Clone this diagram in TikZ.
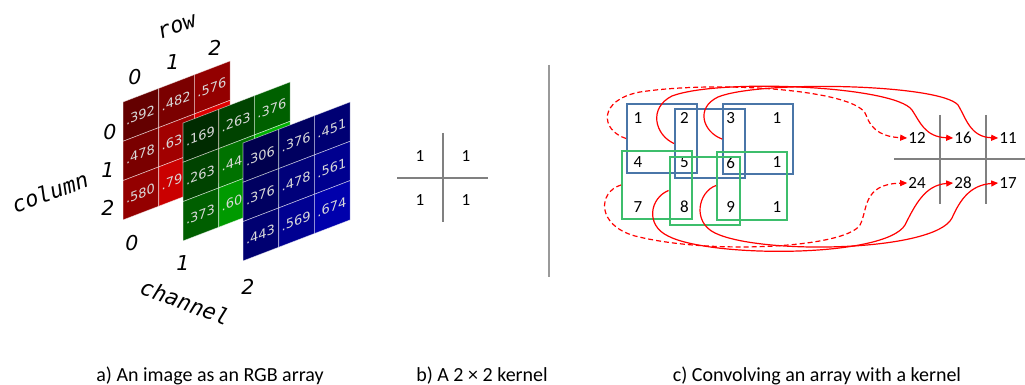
\documentclass[tikz,border=0pt]{standalone}
\usepackage{fontspec}
\setmainfont{Carlito}
\newfontfamily\cellfont{DejaVu Sans}
\newfontfamily\axisfont{DejaVu Sans Mono}
\newfontfamily\axisnumfont{DejaVu Sans}
\usepackage{tikz}
\usetikzlibrary{arrows.meta}
\definecolor{KerGray}{HTML}{808080}
\definecolor{WinBlue}{HTML}{4A76A8}
\definecolor{WinGreen}{HTML}{3DBE6C}
\definecolor{ConvRed}{HTML}{FF0000}
\newcommand{\cellw}{35.7}
\newcommand{\cellh}{39.3}
% one slanted channel of the RGB array: #1,#2 top left, #3 rgb of a cell, #4 value/text pairs, #5 name
\newcommand{\ChanPanel}[5]{%
  \begin{scope}[shift={(#1,-#2)},yslant=0.383]
    \foreach \v/\s [count=\k from 0] in {#4} {
      \pgfmathtruncatemacro{\pcol}{mod(\k,3)}
      \pgfmathtruncatemacro{\prow}{\k/3}
      \definecolor{cellc}{rgb}{#3}
      \draw[cellline,fill=cellc] (\pcol*\cellw,-\prow*\cellh) rectangle ++(\cellw,-\cellh);
      \node[celltxt] (#5\k) at (\pcol*\cellw+2.8,-\prow*\cellh-0.5*\cellh) {\s};
    }
  \end{scope}}

\begin{document}
\begin{tikzpicture}[x=1pt,y=1pt,
  cellline/.style={draw=white,draw opacity=.6,line width=.6pt},
  celltxt/.style={font=\cellfont\fontsize{13}{15}\selectfont,text=white!85!black,transform shape,inner sep=0pt,anchor=west},
  axislab/.style={font=\axisfont\itshape\fontsize{22}{26}\selectfont},
  axisnum/.style={font=\axisnumfont\itshape\fontsize{20.5}{24}\selectfont},
  numtxt/.style={font=\fontsize{17}{20}\selectfont,inner sep=1pt},
  capt/.style={font=\fontsize{20}{24}\selectfont,anchor=base},
  gridline/.style={KerGray,line width=1.3pt},
  winblue/.style={draw=WinBlue,line width=2pt,minimum width=70pt,minimum height=69pt,inner sep=0pt},
  wingreen/.style={draw=WinGreen,line width=2pt,minimum width=70pt,minimum height=68pt,inner sep=0pt},
  convarrow/.style={ConvRed,line width=1.2pt,-{Triangle[length=7pt,width=6pt]}},
  convdash/.style={convarrow,dash pattern=on 5pt off 3pt}]
  \useasboundingbox (0,0) rectangle (1025,-385);

  % a) the RGB array
  \ChanPanel{123}{102}{\v,0,0}{.392/.392,.482/.482,.576/.576,.478/.478,.631/.63,.874/{},.580/.580,.792/.79,.914/{}}{red}
  \ChanPanel{183}{123}{0,\v,0}{.169/.169,.263/.263,.376/.376,.263/.263,.447/.44,.698/{},.373/.373,.604/.60,.702/{}}{green}
  \ChanPanel{243}{143}{0,0,\v}{.306/.306,.376/.376,.451/.451,.376/.376,.478/.478,.561/.561,.443/.443,.569/.569,.674/.674}{blue}
  \node[axislab,rotate=20] (rowlab) at (177,-27) {row};
  \node[axisnum] (top0) at (135,-77) {0};
  \node[axisnum] (top1) at (173,-62) {1};
  \node[axisnum] (top2) at (215,-48) {2};
  \node[axisnum] (left0) at (110,-132) {0};
  \node[axisnum] (left1) at (108,-170) {1};
  \node[axisnum] (left2) at (108,-208) {2};
  \node[axislab,rotate=20] (collab) at (50,-192) {column};
  \node[axisnum] (bot0) at (132,-243) {0};
  \node[axisnum] (bot1) at (183,-263) {1};
  \node[axisnum] (bot2) at (248,-287) {2};
  \node[axislab,rotate=-20] (chanlab) at (185,-302) {channel};

  % b) the kernel
  \draw[gridline] (443,-133) -- (443,-222);
  \draw[gridline] (397,-178) -- (488,-178);
  \node[numtxt] (ker1) at (420,-156) {1};
  \node[numtxt] (ker2) at (466,-156) {1};
  \node[numtxt] (ker3) at (420,-200) {1};
  \node[numtxt] (ker4) at (466,-200) {1};

  \draw[KerGray!80,line width=1.2pt] (549,-65) -- (549,-277);

  % c) the convolution
  \foreach \t [count=\i from 0] in {1,2,3,1,4,5,6,1,7,8,9,1} {
    \pgfmathsetmacro{\ax}{638+46.3*mod(\i,4)}
    \pgfmathsetmacro{\ay}{-118-44.5*int(\i/4)}
    \node[numtxt] (arr\i) at (\ax,\ay) {\t};
  }
  \node[winblue] (win1) at (662,-138.5) {};
  \node[winblue] (win2) at (710,-143.5) {};
  \node[winblue] (win3) at (758,-139) {};
  \node[wingreen] (win4) at (657,-185) {};
  \node[wingreen] (win5) at (704.5,-190.5) {};
  \node[wingreen] (win6) at (752,-185.5) {};

  \draw[gridline] (940,-115) -- (940,-204);
  \draw[gridline] (986,-115) -- (986,-204);
  \draw[gridline] (894,-159) -- (1025,-159);
  \node[numtxt] (out1) at (917,-138) {12};
  \node[numtxt] (out2) at (963,-138) {16};
  \node[numtxt] (out3) at (1008,-138) {11};
  \node[numtxt] (out4) at (917,-183) {24};
  \node[numtxt] (out5) at (963,-183) {28};
  \node[numtxt] (out6) at (1008,-183) {17};

  \draw[convdash] (win1.west) .. controls (600,-130) and (598,-100) .. (640,-92)
    .. controls (720,-80) and (858,-90) .. (866,-115)
    .. controls (872,-132) and (885,-137) .. (out1.west);
  \draw[convarrow] (win2.west) .. controls (655,-135) and (648,-108) .. (672,-96)
    .. controls (720,-78) and (895,-86) .. (912,-110)
    .. controls (920,-122) and (925,-137) .. (out2.west);
  \draw[convarrow] (win3.west) .. controls (703,-132) and (695,-108) .. (718,-97)
    .. controls (760,-80) and (940,-84) .. (958,-105)
    .. controls (966,-118) and (970,-137) .. (out3.west);
  \draw[convdash] (win4.west) .. controls (598,-192) and (596,-225) .. (635,-236)
    .. controls (710,-255) and (845,-248) .. (860,-225)
    .. controls (868,-210) and (862,-184) .. (out4.west);
  \draw[convarrow] (win5.west) .. controls (650,-198) and (645,-225) .. (668,-236)
    .. controls (710,-258) and (885,-258) .. (905,-225)
    .. controls (915,-205) and (925,-185) .. (out5.west);
  \draw[convarrow] (win6.west) .. controls (698,-192) and (692,-222) .. (715,-233)
    .. controls (760,-255) and (935,-252) .. (952,-218)
    .. controls (960,-200) and (970,-185) .. (out6.west);

  % captions
  \node[capt] (capa) at (210,-381) {a) An image as an RGB array};
  \node[capt] (capb) at (482,-381) {b) A 2 × 2 kernel};
  \node[capt] (capc) at (817,-381) {c) Convolving an array with a kernel};
\end{tikzpicture}
\end{document}
